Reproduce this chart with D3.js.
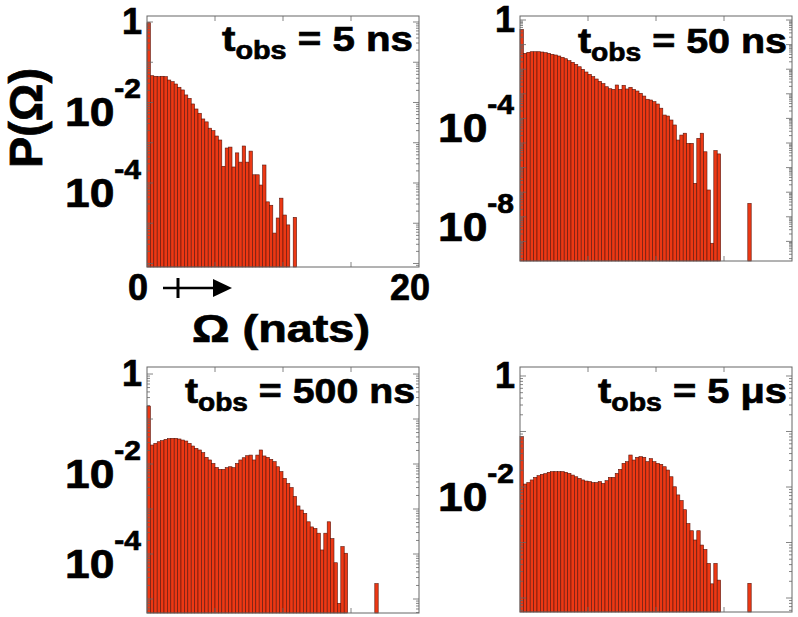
<!DOCTYPE html>
<html><head><meta charset="utf-8">
<script src="https://cdnjs.cloudflare.com/ajax/libs/d3/7.8.5/d3.min.js"></script>
<style>
body{margin:0;background:#fff}
svg{display:block}
text{font-family:"Liberation Sans",Arial,Helvetica,sans-serif;font-weight:bold;fill:#000;stroke:#000;stroke-width:0.7px}
</style>
</head><body>
<svg id="chart" width="798" height="617"></svg>
<script>
// ---------- data ----------
const binWidth = 0.25;                 // Ω bin width (nats)
const xTicks = [5, 10, 15];
const xTickLabels = [{v: 0, t: "0"}, {v: 20, t: "20"}];
const titles = ["5 ns", "50 ns", "500 ns", "5 μs"];
const yTicks5ns = [1, 1e-2, 1e-4];
const yTicks50ns = [1, 1e-4, 1e-8];
const yTicks500ns = [1, 1e-2, 1e-4];
const yTicks5us = [1, 1e-2];

const p5ns = [0.96, 0.0463, 0.0448, 0.0438, 0.0448, 0.0438, 0.0362, 0.0329, 0.0288, 0.0239,
  0.0205, 0.0154, 0.0127, 0.0092, 0.0069, 0.0054, 0.0039, 0.0033, 0.0023, 0.0020,
  0.00147, 0.00117, 2.6e-4, 7.4e-4, 7.8e-4, 2.5e-4, 5.6e-4, 3.3e-4, 8.3e-4, 3.3e-4,
  6.2e-4, 1.6e-4, 1.6e-4, 8.9e-5, 2.8e-4, 3.4e-5, 2.8e-5, 5.7e-6, 1.35e-5, 4.2e-5,
  1.6e-5, 9.1e-6, 0, 1.4e-5];

const p50ns = [0.419, 0.0443, 0.0486, 0.0514, 0.0514, 0.0514, 0.0500, 0.0469, 0.0443, 0.0404,
  0.0378, 0.0344, 0.0305, 0.0267, 0.0222, 0.0191, 0.0158, 0.0126, 0.0099, 0.0077,
  0.0062, 0.0050, 0.0040, 0.0032, 0.0026, 0.00194, 0.00161, 0.00152, 0.00228, 0.00152,
  0.00222, 0.00157, 0.00184, 0.00152, 0.00130, 0.00105, 8.1e-4, 6.0e-4, 5.6e-4, 4.8e-4,
  3.85e-4, 2.6e-4, 1.37e-4, 1.25e-4, 8.6e-5, 5.4e-5, 1.32e-5, 2.1e-5, 2.5e-5, 9.7e-6,
  9.7e-6, 2.3e-7, 1.55e-5, 2.5e-5, 4.4e-6, 1.23e-7, 8.4e-10, 4.9e-6, 3.6e-6, 0,
  0, 0, 0, 0, 0, 0, 0, 3.5e-8];

const p500ns = [0.194, 0.0264, 0.0288, 0.0313, 0.0330, 0.0353, 0.0366, 0.0372, 0.0372, 0.0360,
  0.0341, 0.0324, 0.0288, 0.0251, 0.0223, 0.0205, 0.0179, 0.0141, 0.0123, 0.0103,
  0.0084, 0.0076, 0.0076, 0.0083, 0.0087, 0.0083, 0.0103, 0.0123, 0.0138, 0.0153,
  0.0158, 0.0123, 0.0158, 0.0205, 0.0151, 0.0141, 0.0127, 0.0113, 0.0087, 0.0068,
  0.0048, 0.0037, 0.0030, 0.0019, 0.00117, 9.5e-4, 8.0e-4, 5.2e-4, 4.0e-4, 3.7e-4,
  2.9e-4, 1.23e-4, 2.9e-4, 5.2e-4, 2.2e-4, 6.4e-5, 8.0e-6, 1.46e-4, 1.04e-4, 0,
  0, 0, 0, 0, 0, 0, 0, 2.2e-5];

const p5us = [0.0807, 0.0113, 0.0120, 0.0134, 0.0149, 0.0160, 0.0169, 0.0174, 0.0184, 0.0189,
  0.0189, 0.0189, 0.0189, 0.0184, 0.0176, 0.0164, 0.0153, 0.0143, 0.0134, 0.0128,
  0.0125, 0.0120, 0.0120, 0.0125, 0.0116, 0.0130, 0.0149, 0.0149, 0.0176, 0.0208,
  0.0267, 0.0286, 0.0377, 0.0306, 0.0343, 0.0352, 0.0343, 0.0286, 0.0324, 0.0286,
  0.0267, 0.0256, 0.0232, 0.0202, 0.0153, 0.0101, 0.0072, 0.0057, 0.0039, 0.0022,
  0.00163, 0.00111, 0.00163, 9.0e-4, 7.5e-4, 4.2e-4, 1.8e-4, 4.2e-4, 2.1e-4, 0,
  0, 0, 0, 0, 0, 0, 0, 1.84e-4];

// ---------- layout ----------
const panels = [
  {data: p5ns,   title: titles[0], yTicks: yTicks5ns,   x0: 147, x1: 419, y0: 16,  y1: 267, lo: -6.087, hi: 0.149, tx: 222, tw: 191, ty: 51,  xlabels: true},
  {data: p50ns,  title: titles[1], yTicks: yTicks50ns,  x0: 520, x1: 792, y0: 16,  y1: 261, lo: -9.797, hi: 0.163, tx: 578, tw: 209, ty: 53},
  {data: p500ns, title: titles[2], yTicks: yTicks500ns, x0: 147, x1: 419, y0: 367, y1: 613, lo: -5.311, hi: 0.156, tx: 185, tw: 230, ty: 403},
  {data: p5us,   title: titles[3], yTicks: yTicks5us,   x0: 520, x1: 792, y0: 367, y1: 612, lo: -4.252, hi: 0.162, tx: 598, tw: 189, ty: 403}
];

const svg = d3.select("#chart");
const barFill = "#ec3814", barEdge = "#5a140a", axisCol = "#666";

panels.forEach(p => {
  const g = svg.append("g");
  const x = d3.scaleLinear().domain([0, 20]).range([p.x0, p.x1]);
  const y = d3.scaleLog().domain([Math.pow(10, p.lo), Math.pow(10, p.hi)]).range([p.y1, p.y0]);

  // bars
  g.selectAll("rect.bar").data(p.data.map((v, i) => ({v, i})).filter(d => d.v > 0))
    .join("rect").attr("class", "bar")
    .attr("x", d => x(d.i * binWidth))
    .attr("width", d => x((d.i + 1) * binWidth) - x(d.i * binWidth))
    .attr("y", d => y(d.v))
    .attr("height", d => p.y1 - y(d.v))
    .attr("fill", barFill).attr("stroke", barEdge).attr("stroke-width", 0.6);

  // log minor/major ticks on left and right
  const ticks = [];
  for (let k = Math.floor(p.lo); k <= Math.ceil(p.hi); k++) {
    for (let m = 1; m <= 9; m++) {
      const v = m * Math.pow(10, k);
      if (Math.log10(v) >= p.lo && Math.log10(v) <= p.hi) ticks.push({v, major: m === 1});
    }
  }
  ticks.forEach(t => {
    const len = t.major ? 6 : 3;
    const yy = y(t.v);
    g.append("line").attr("x1", p.x0).attr("x2", p.x0 + len).attr("y1", yy).attr("y2", yy)
      .attr("stroke", axisCol).attr("stroke-width", 0.8);
    g.append("line").attr("x1", p.x1).attr("x2", p.x1 - len).attr("y1", yy).attr("y2", yy)
      .attr("stroke", axisCol).attr("stroke-width", 0.8);
  });
  // x ticks top & bottom
  xTicks.forEach(v => {
    g.append("line").attr("x1", x(v)).attr("x2", x(v)).attr("y1", p.y1).attr("y2", p.y1 - 5)
      .attr("stroke", axisCol).attr("stroke-width", 0.8);
    g.append("line").attr("x1", x(v)).attr("x2", x(v)).attr("y1", p.y0).attr("y2", p.y0 + 5)
      .attr("stroke", axisCol).attr("stroke-width", 0.8);
  });
  // box
  g.append("rect").attr("x", p.x0).attr("y", p.y0).attr("width", p.x1 - p.x0).attr("height", p.y1 - p.y0)
    .attr("fill", "none").attr("stroke", axisCol).attr("stroke-width", 1);

  // y tick labels
  p.yTicks.forEach(v => {
    const yy = y(v);
    if (v === 1) {
      g.append("text").attr("x", p.x0 - 5).attr("y", yy + 12).attr("text-anchor", "end")
        .attr("font-size", 36).text("1");
    } else {
      const e = Math.round(Math.log10(v));
      const t = g.append("text").attr("x", p.x0 - 6).attr("y", yy + 24).attr("text-anchor", "end")
        .attr("textLength", 76).attr("lengthAdjust", "spacingAndGlyphs");
      t.append("tspan").attr("font-size", 40).text("10");
      t.append("tspan").attr("font-size", 27).attr("dy", -28).text(String(e));
    }
  });

  // title
  const tt = g.append("text").attr("x", p.tx).attr("y", p.ty)
    .attr("textLength", p.tw).attr("lengthAdjust", "spacingAndGlyphs");
  tt.append("tspan").attr("font-size", 35).text("t");
  tt.append("tspan").attr("font-size", 25).attr("dy", 8).text("obs");
  tt.append("tspan").attr("font-size", 35).attr("dy", -8).text(" = " + p.title);

  if (p.xlabels) {
    xTickLabels.forEach(d => {
      g.append("text").attr("x", x(d.v) - 9).attr("y", 300).attr("text-anchor", "middle")
        .attr("font-size", 36).text(d.t);
    });
  }
});

// axis titles
svg.append("text").attr("transform", "translate(42,118) rotate(-90)")
  .attr("text-anchor", "middle").attr("font-size", 46)
  .attr("textLength", 100).attr("lengthAdjust", "spacingAndGlyphs").text("P(Ω)");
svg.append("text").attr("x", 192).attr("y", 342).attr("font-size", 38)
  .attr("textLength", 178).attr("lengthAdjust", "spacingAndGlyphs").text("Ω (nats)");

// arrow under x axis
const ar = svg.append("g");
ar.append("line").attr("x1", 163).attr("x2", 216).attr("y1", 288).attr("y2", 288)
  .attr("stroke", "#000").attr("stroke-width", 2.5);
ar.append("line").attr("x1", 178).attr("x2", 178).attr("y1", 278).attr("y2", 298)
  .attr("stroke", "#000").attr("stroke-width", 3);
ar.append("path").attr("d", "M213,279 L232,288 L213,297 Z").attr("fill", "#000");
</script>
</body></html>
